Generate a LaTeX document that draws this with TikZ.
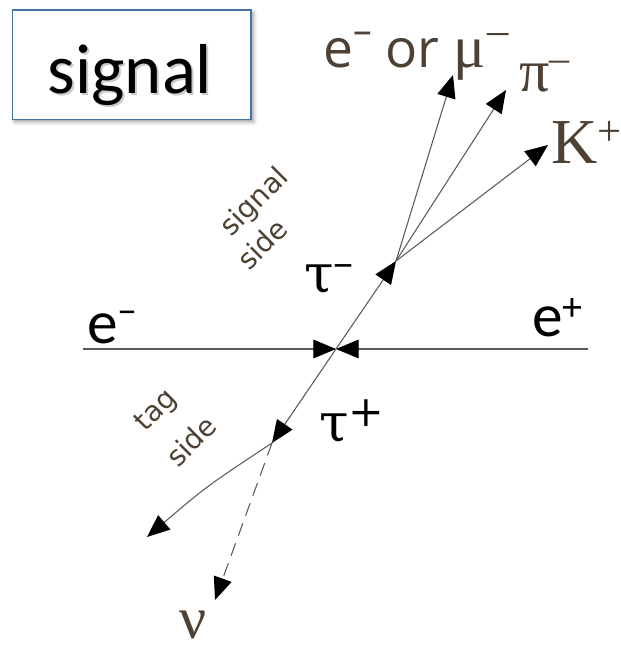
\documentclass[tikz,border=0pt]{standalone}
\usepackage{fontspec}
\usetikzlibrary{arrows.meta,shadows.blur}
\newfontfamily\calfont{Carlito}
\newfontfamily\tmsfont{Liberation Serif}
\newfontfamily\dvsfont{DejaVu Sans}
\newfontfamily\dvsrfont{DejaVu Serif}
\newfontfamily\opsfont{Open Sans}
\definecolor{lbrown}{RGB}{78,64,50}
\definecolor{boxblue}{RGB}{70,114,165}
\definecolor{linegray}{RGB}{90,90,90}
\newcommand\fs[1]{\fontsize{#1}{#1}\selectfont}
\newcommand\upm[3]{\raisebox{#1}{\fs{#2}#3}}
\begin{document}
\begin{tikzpicture}[x=0.75pt,y=-0.75pt,
  tipend/.style={-{Triangle[length=17pt,width=14pt,color=black]}},
  arr/.style={draw=linegray, line width=0.8pt, tipend},
  lbl/.style={inner sep=0pt, anchor=base west},
  rot/.style={inner sep=0pt, rotate=45, text=lbrown, font=\dvsfont\fs{21}}
]
\useasboundingbox (0,0) rectangle (621,647);
\node[draw=boxblue, line width=1pt, fill=white, minimum width=179pt, minimum height=82pt, inner sep=0pt,
  blur shadow={shadow xshift=2pt, shadow yshift=-2pt, shadow blur radius=3pt, shadow opacity=40}] (box) at (131.5,64.5) {};
\node[inner sep=0pt, anchor=base, text=black!40, opacity=0.5] (sigshadow) at (132,95.5) {\calfont\fs{53}signal};
\node[inner sep=0pt, anchor=base] (sigtxt) at (130,93) {\calfont\fs{53}signal};

\coordinate (C) at (336,349);
\coordinate (V) at (396,261);
\coordinate (W) at (272,443);
\coordinate (Lft) at (83,349);
\coordinate (Rgt) at (588,349);
\coordinate (tE) at (453,75);
\coordinate (tPi) at (506,90);
\coordinate (tK) at (548,145);
\coordinate (tL) at (147,537);
\coordinate (tNu) at (215,600);

\draw[arr] (Lft) -- (C);
\draw[arr] (Rgt) -- (C);
\draw[arr] (C) -- (V);
\draw[arr] (C) -- (W);
\draw[arr] (V) -- (tE);
\draw[arr] (V) -- (tPi);
\draw[arr] (V) -- (tK);
\draw[arr, dash pattern=on 10pt off 6pt] (W) -- (tNu);
\draw[arr] (W) .. controls (207,486) .. (tL);

\node[lbl] (em) at (87,343) {\calfont\fs{46}e\upm{15pt}{30}{–}};
\node[lbl] (ep) at (532,336) {\calfont\fs{46}e\upm{12pt}{30}{+}};
\node[lbl] (taum) at (304,292) {\dvsrfont\fs{40}τ\upm{12pt}{30}{–}};
\node[lbl] (taup) at (319,441) {\dvsrfont\fs{40}τ\upm{11pt}{32}{+}};
\node[lbl, text=lbrown] (pim) at (519,91) {\tmsfont\fs{45}π\upm{15pt}{30}{–}};
\node[lbl, text=lbrown] (kp) at (551,163) {\tmsfont\fs{48}K\upm{13pt}{32}{+}};
\node[lbl, text=lbrown] (nu) at (179,638) {\tmsfont\fs{45}ν};
\node[lbl, text=lbrown] (emu) at (323,67) {\opsfont\fs{40}e\upm{18pt}{28}{–}\hspace{10pt}or\hspace{11pt}{\tmsfont\fs{45}μ\hspace{1pt}\upm{17pt}{32}{–}}};

\node[rot] (sg) at (255,203) {signal};
\node[rot] (sgs) at (262,244) {side};
\node[rot] (tg) at (157,411) {tag};
\node[rot] (tgs) at (191,441) {side};
\end{tikzpicture}
\end{document}
